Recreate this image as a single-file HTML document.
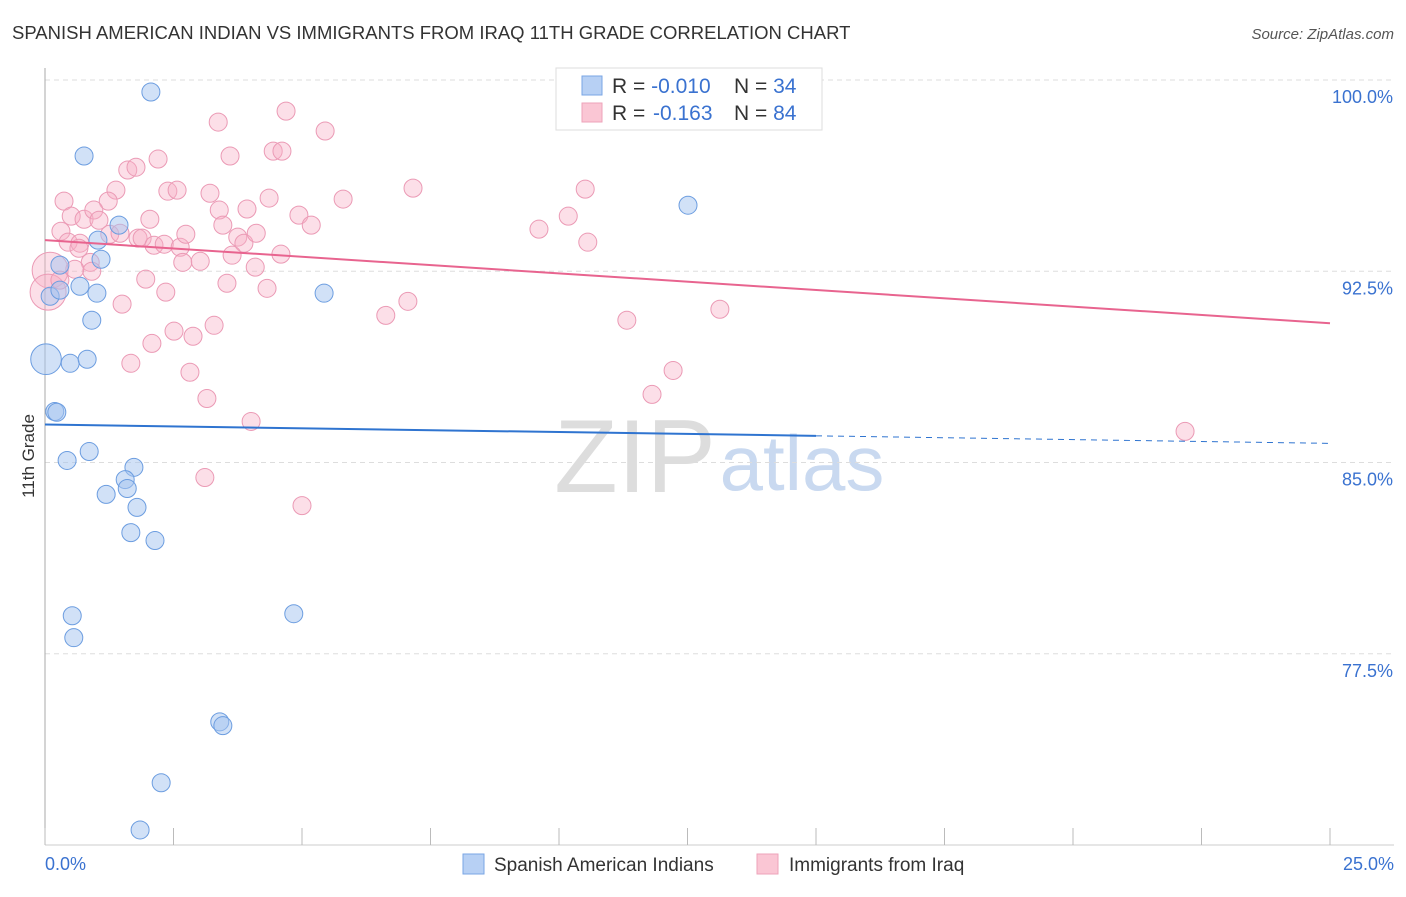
<!DOCTYPE html>
<html><head><meta charset="utf-8"><style>
body{margin:0;background:#fff;font-family:"Liberation Sans",sans-serif;}
svg text{font-family:"Liberation Sans",sans-serif;}
</style></head><body>
<svg id="chart" width="1406" height="892" viewBox="0 0 1406 892" xmlns="http://www.w3.org/2000/svg">
<text x="12" y="39" font-size="18.5" fill="#333">SPANISH AMERICAN INDIAN VS IMMIGRANTS FROM IRAQ 11TH GRADE CORRELATION CHART</text>
<text x="1394" y="39" font-size="15" fill="#555" text-anchor="end" font-style="italic">Source: ZipAtlas.com</text>
<g>
<text x="635" y="492" font-size="104" fill="#ddd" text-anchor="middle" font-family="Liberation Serif,serif">ZIP</text>
<text x="802" y="490" font-size="78" fill="#c9d9f0" text-anchor="middle">atlas</text>
</g>
<g id="grid"></g>
<g id="axes"></g>
<g id="pts"></g>
<g id="trend"></g>
<text transform="translate(34,456) rotate(-90)" font-size="17" fill="#333" text-anchor="middle">11th Grade</text>
<g>
<rect x="556" y="68" width="266" height="62" fill="#fff" stroke="#ddd"/>
<rect x="582" y="76" width="20" height="19" fill="#b7d0f4" stroke="#7aa6e4"/>
<rect x="582" y="103" width="20" height="19" fill="#fac6d4" stroke="#eea3ba"/>
<text x="612" y="93" font-size="21" fill="#333">R = <tspan fill="#3a72d0">-0.010</tspan><tspan x="734">N = </tspan><tspan fill="#3a72d0">34</tspan></text>
<text x="612" y="120" font-size="21" fill="#333">R = <tspan x="653" fill="#3a72d0">-0.163</tspan><tspan x="734">N = </tspan><tspan fill="#3a72d0">84</tspan></text>
</g>
<g>
<rect x="463" y="854" width="21" height="20" fill="#b7d0f4" stroke="#7aa6e4"/>
<text x="494" y="871" font-size="19" fill="#333">Spanish American Indians</text>
<rect x="757" y="854" width="21" height="20" fill="#fac6d4" stroke="#eea3ba"/>
<text x="789" y="871" font-size="19" fill="#333">Immigrants from Iraq</text>
</g>
</svg>
<script>
const yTicks=[100,92.5,85,77.5];
const yTickLabels=["100.0%","92.5%","85.0%","77.5%"];
const xTickLabels=["0.0%","25.0%"];
const blueX=[2.06,0.76,1.44,12.51,1.03,1.09,0.29,0.68,1.01,0.10,5.43,0.91,0.02,0.49,0.82,0.19,0.23,0.43,0.86,1.73,1.56,1.60,1.19,1.79,1.67,2.14,0.53,4.84,0.56,3.40,3.46,2.26,1.85,0.29];
const blueY=[99.53,97.02,94.31,95.09,93.72,92.97,92.74,91.91,91.64,91.52,91.64,90.58,89.05,88.89,89.05,87.00,86.97,85.08,85.43,84.81,84.33,83.98,83.75,83.24,82.25,81.94,78.99,79.07,78.13,74.83,74.68,72.44,70.59,91.76];
const blueSize=[1,1,1,1,1,1,1,1,1,1,1,1,1.7,1,1,1,1,1,1,1,1,1,1,1,1,1,1,1,1,1,1,1,1,1];
const pinkX=[4.69,3.37,5.45,4.44,4.61,3.60,2.20,1.61,1.77,7.16,0.37,1.38,1.23,2.39,2.57,3.21,4.36,5.80,0.51,0.76,0.95,1.05,2.04,3.39,3.93,4.94,5.18,3.46,0.31,0.45,0.68,0.66,1.26,1.46,1.81,1.89,2.12,2.32,2.63,2.74,3.75,3.87,4.11,4.59,3.64,2.68,3.02,4.09,0.88,0.91,0.58,1.96,2.35,3.54,4.32,1.50,6.63,7.06,2.08,2.51,2.88,3.29,1.67,2.82,3.15,4.01,3.11,9.61,10.18,10.51,10.56,11.32,13.13,12.22,11.81,22.18,5.00,14.07,0.10,0.06,0.29];
const pinkY=[98.78,98.35,98.00,97.21,97.21,97.02,96.90,96.47,96.58,95.76,95.25,95.68,95.25,95.64,95.68,95.56,95.37,95.33,94.66,94.54,94.90,94.50,94.54,94.90,94.94,94.70,94.31,94.31,94.07,93.64,93.60,93.40,93.95,93.99,93.80,93.80,93.52,93.56,93.44,93.95,93.84,93.60,93.99,93.17,93.13,92.85,92.89,92.66,92.85,92.50,92.58,92.19,91.68,92.03,91.83,91.21,90.77,91.32,89.67,90.15,89.95,90.38,88.89,88.54,87.51,86.61,84.41,94.15,94.66,95.72,93.64,90.58,91.01,88.61,87.67,86.22,83.31,100.0,92.54,91.68,92.15];
const pinkBig=[78,79];
const pinkTrend=[93.72,90.46];
const blueTrend=[86.49,85.75];
const blueSolidEnd=15;

const NS="http://www.w3.org/2000/svg";
const X0=45,X1=1330,Y0=80,Y1=845;
function sx(v){return X0+(v/25)*(X1-X0);}
function sy(v){return Y0+(100-v)/30*(Y1-Y0);}
function mk(tag,attrs,parent){const e=document.createElementNS(NS,tag);for(const k in attrs)e.setAttribute(k,attrs[k]);parent.appendChild(e);return e;}
const grid=document.getElementById('grid'),axes=document.getElementById('axes'),pts=document.getElementById('pts'),trend=document.getElementById('trend');
yTicks.forEach((t,i)=>{
 const l=mk('line',{x1:X0,x2:1394,y1:sy(t),y2:sy(t),stroke:'#ddd','stroke-dasharray':'5,4'},grid);
 
 
 const tx=mk('text',{x:1393,y:sy(t)+23,'font-size':18,fill:'#3a72d0','text-anchor':'end'},axes);
 tx.textContent=yTickLabels[i];
 
 
});
const ya=mk('line',{x1:X0,x2:X0,y1:68,y2:Y1,stroke:'#aaa'},axes);


const xa=mk('line',{x1:X0,x2:1394,y1:Y1,y2:Y1,stroke:'#ccc'},axes);


for(let i=0;i<=10;i++){
 const t=mk('line',{x1:sx(i*2.5),x2:sx(i*2.5),y1:828,y2:Y1,stroke:'#bbb'},axes);
 
 
}
[[0,'start',45],[25,'end',1394]].forEach((d,i)=>{
 const tx=mk('text',{x:d[2],y:870,'font-size':18,fill:'#3a72d0','text-anchor':d[1]},axes);
 tx.textContent=xTickLabels[i];
 
 
});
pinkX.forEach((v,i)=>{
 const r=pinkBig.includes(i)?18:9;
 const c=mk('circle',{cx:sx(v),cy:sy(pinkY[i]),r:r,fill:'rgba(248,176,198,0.4)',stroke:'#eb9ab5','stroke-width':1},pts);
 
 
});
blueX.forEach((v,i)=>{
 const c=mk('circle',{cx:sx(v),cy:sy(blueY[i]),r:9*blueSize[i],fill:'rgba(164,196,240,0.5)',stroke:'#6c9de0','stroke-width':1},pts);
 
 
});
const pl=mk('line',{x1:sx(0),y1:sy(pinkTrend[0]),x2:sx(25),y2:sy(pinkTrend[1]),stroke:'#e8648f','stroke-width':2},trend);


const bmid=blueTrend[0]+(blueTrend[1]-blueTrend[0])*blueSolidEnd/25;
const bl=mk('line',{x1:sx(0),y1:sy(blueTrend[0]),x2:sx(blueSolidEnd),y2:sy(bmid),stroke:'#2f74d0','stroke-width':2},trend);


const bd=mk('line',{x1:sx(blueSolidEnd),y1:sy(bmid),x2:sx(25),y2:sy(blueTrend[1]),stroke:'#2f74d0','stroke-width':1,'stroke-dasharray':'6,5'},trend);


</script>
</body></html>
